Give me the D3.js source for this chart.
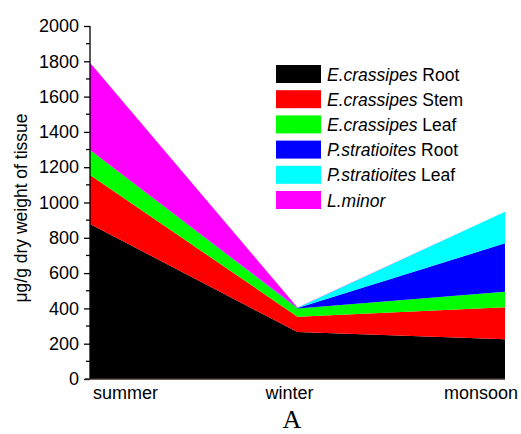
<!DOCTYPE html>
<html>
<head>
<meta charset="utf-8">
<script src="https://cdn.jsdelivr.net/npm/d3@7"></script>
<style>
  body { margin: 0; background: #fff; }
  svg { font-family: "Liberation Sans", Arial, sans-serif; }
</style>
</head>
<body>
<div id="chart"></div>
<script>
// data
const seasons = ["summer", "winter", "monsoon"];
const ecRoot = [878, 266, 225];
const ecStem = [278, 87, 181];
const ecLeaf = [141, 47, 89];
const psRoot = [0, 2, 274];
const psLeaf = [0, 1, 179];
const lMinor = [495, 2, 0];
const yTicks = [0, 200, 400, 600, 800, 1000, 1200, 1400, 1600, 1800, 2000];

const series = [
  {key: "ecRoot", vals: ecRoot, color: "#000000", sp: "E.crassipes", part: " Root"},
  {key: "ecStem", vals: ecStem, color: "#ff0000", sp: "E.crassipes", part: " Stem"},
  {key: "ecLeaf", vals: ecLeaf, color: "#00ff00", sp: "E.crassipes", part: " Leaf"},
  {key: "psRoot", vals: psRoot, color: "#0000ff", sp: "P.stratioites", part: " Root"},
  {key: "psLeaf", vals: psLeaf, color: "#00ffff", sp: "P.stratioites", part: " Leaf"},
  {key: "lMinor", vals: lMinor, color: "#ff00ff", sp: "L.minor", part: ""}
];

const rows = seasons.map((s, i) => {
  const r = {season: s};
  series.forEach(d => r[d.key] = d.vals[i]);
  return r;
});

const width = 521, height = 434;
const svg = d3.select("#chart").append("svg")
  .attr("width", width)
  .attr("height", height);

const x = d3.scalePoint().domain(seasons).range([90, 505]);
const y = d3.scaleLinear().domain([0, 2000]).range([379, 26]);

const stacked = d3.stack().keys(series.map(d => d.key))(rows);

const area = d3.area()
  .x(d => x(d.data.season))
  .y0(d => y(d[0]))
  .y1(d => y(d[1]));

svg.append("g").selectAll("path")
  .data(stacked)
  .join("path")
  .attr("d", area)
  .attr("fill", (d, i) => series[i].color);

// y axis, major + minor ticks
const yAxis = svg.append("g").attr("transform", "translate(90,0)");
yAxis.call(d3.axisLeft(y).tickValues(yTicks).tickFormat(d3.format("d")).tickSize(6).tickPadding(5))
  .call(g => g.selectAll("text").attr("font-size", 18).attr("fill", "#000"))
  .call(g => g.select(".domain").attr("stroke-width", 1.3))
  .call(g => g.selectAll(".tick line").attr("stroke-width", 1.3));
yAxis.selectAll(".minor")
  .data(d3.range(100, 2000, 200))
  .join("line")
  .attr("class", "minor")
  .attr("x1", -4).attr("x2", 0)
  .attr("y1", d => y(d)).attr("y2", d => y(d))
  .attr("stroke", "#000").attr("stroke-width", 1.3);
yAxis.select(".domain").attr("d", `M0,${y(2000)}V${y(0)}`);

// bottom line
svg.append("line")
  .attr("x1", 85).attr("x2", x("monsoon"))
  .attr("y1", y(0)).attr("y2", y(0))
  .attr("stroke", "#3a2d28").attr("stroke-width", 1.5);

// x labels
const xl = [
  {s: "summer", dx: 3, anchor: "start"},
  {s: "winter", dx: -8, anchor: "middle"},
  {s: "monsoon", dx: 13, anchor: "end"}
];
svg.selectAll(".xl")
  .data(xl)
  .join("text")
  .attr("x", d => x(d.s) + d.dx)
  .attr("y", 399)
  .attr("text-anchor", d => d.anchor)
  .attr("font-size", 18)
  .text(d => d.s);

// y label
svg.append("text")
  .attr("transform", "translate(27,208) rotate(-90)")
  .attr("text-anchor", "middle")
  .attr("font-size", 17.5)
  .text("μg/g dry weight of tissue");

// legend
const legend = svg.append("g").attr("transform", "translate(276,65)");
const item = legend.selectAll("g")
  .data(series)
  .join("g")
  .attr("transform", (d, i) => `translate(0,${i * 25.2})`);
item.append("rect")
  .attr("width", 45).attr("height", 18)
  .attr("fill", d => d.color);
const lt = item.append("text")
  .attr("x", 51).attr("y", 15.5)
  .attr("font-size", 17.5);
lt.append("tspan").attr("font-style", "italic").text(d => d.sp);
lt.append("tspan").text(d => d.part);

// panel letter
svg.append("text")
  .attr("x", 292).attr("y", 428)
  .attr("text-anchor", "middle")
  .attr("font-family", "Liberation Serif, Times New Roman, serif")
  .attr("font-size", 26)
  .text("A");
</script>
</body>
</html>
